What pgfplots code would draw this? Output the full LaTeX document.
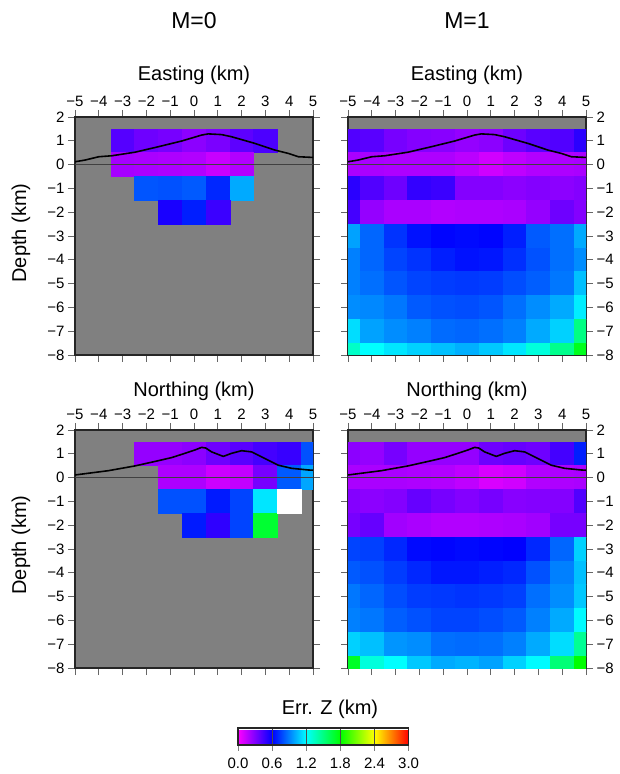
\documentclass[border=0pt]{standalone}
\usepackage{pgfplots}
\pgfplotsset{compat=1.18}
\usepackage{pgfplotstable}
\usepackage{fontspec}
\setmainfont{Liberation Sans}
\definecolor{bggray}{RGB}{128,128,128}
\pgfplotsset{colormap={gmt}{rgb255=(255,0,255) rgb255=(0,0,255) rgb255=(0,255,255) rgb255=(0,255,0) rgb255=(255,255,0) rgb255=(255,0,0)}}

% M=0, Easting
\pgfplotstableread{
x y c
-3 1 0.40
-2 1 0.34
-1 1 0.32
0 1 0.27
1 1 0.31
2 1 0.38
3 1 0.42
-3 0 0.21
-2 0 0.20
-1 0 0.19
0 0 0.18
1 0 0.13
2 0 0.18
-2 -1 0.80
-1 -1 0.79
0 -1 0.81
1 -1 0.69
2 -1 1.00
-1 -2 0.54
0 -2 0.67
1 -2 0.46
}\tlcells

% M=0, Northing
\pgfplotstableread{
x y c
-2 1 0.25
-1 1 0.25
0 1 0.27
1 1 0.34
2 1 0.39
3 1 0.44
4 1 0.47
5 1 0.79
-1 0 0.19
0 0 0.19
1 0 0.12
2 0 0.14
3 0 0.32
4 0 0.81
5 0 0.99
-1 -1 0.79
0 -1 0.79
1 -1 0.66
2 -1 0.76
3 -1 1.14
0 -2 0.66
1 -2 0.49
2 -2 0.76
3 -2 1.68
}\blcells

% M=1, Easting
\pgfplotstableread{
x y c
-5 1 0.41
-4 1 0.39
-3 1 0.32
-2 1 0.29
-1 1 0.28
0 1 0.25
1 1 0.27
2 1 0.34
3 1 0.39
4 1 0.41
5 1 0.50
-5 0 0.20
-4 0 0.20
-3 0 0.19
-2 0 0.19
-1 0 0.19
0 0 0.16
1 0 0.11
2 0 0.15
3 0 0.18
4 0 0.19
5 0 0.20
-5 -1 0.50
-4 -1 0.41
-3 -1 0.34
-2 -1 0.48
-1 -1 0.46
0 -1 0.29
1 -1 0.29
2 -1 0.27
3 -1 0.29
4 -1 0.27
5 -1 0.29
-5 -2 0.44
-4 -2 0.25
-3 -2 0.20
-2 -2 0.20
-1 -2 0.18
0 -2 0.19
1 -2 0.19
2 -2 0.20
3 -2 0.25
4 -2 0.34
5 -2 0.29
-5 -3 0.98
-4 -3 0.84
-3 -3 0.72
-2 -3 0.64
-1 -3 0.61
0 -3 0.62
1 -3 0.61
2 -3 0.67
3 -3 0.81
4 -3 0.86
5 -3 1.00
-5 -4 0.90
-4 -4 0.84
-3 -4 0.76
-2 -4 0.72
-1 -4 0.67
0 -4 0.64
1 -4 0.65
2 -4 0.71
3 -4 0.79
4 -4 0.86
5 -4 0.93
-5 -5 0.90
-4 -5 0.86
-3 -5 0.80
-2 -5 0.76
-1 -5 0.74
0 -5 0.73
1 -5 0.74
2 -5 0.78
3 -5 0.82
4 -5 0.88
5 -5 1.05
-5 -6 0.93
-4 -6 0.92
-3 -6 0.88
-2 -6 0.81
-1 -6 0.79
0 -6 0.78
1 -6 0.80
2 -6 0.86
3 -6 0.93
4 -6 1.00
5 -6 1.16
-5 -7 1.12
-4 -7 0.98
-3 -7 0.93
-2 -7 0.90
-1 -7 0.85
0 -7 0.84
1 -7 0.86
2 -7 0.90
3 -7 1.00
4 -7 1.09
5 -7 1.49
-5 -8 1.33
-4 -8 1.20
-3 -8 1.14
-2 -8 1.09
-1 -8 1.05
0 -8 1.01
1 -8 1.07
2 -8 1.14
3 -8 1.28
4 -8 1.47
5 -8 1.73
}\trcells

% M=1, Northing
\pgfplotstableread{
x y c
-5 1 0.27
-4 1 0.25
-3 1 0.32
-2 1 0.25
-1 1 0.25
0 1 0.25
1 1 0.34
2 1 0.36
3 1 0.34
4 1 0.44
5 1 0.67
-5 0 0.20
-4 0 0.20
-3 0 0.20
-2 0 0.19
-1 0 0.18
0 0 0.15
1 0 0.09
2 0 0.11
3 0 0.18
4 0 0.19
5 0 0.20
-5 -1 0.29
-4 -1 0.27
-3 -1 0.29
-2 -1 0.36
-1 -1 0.32
0 -1 0.29
1 -1 0.32
2 -1 0.28
3 -1 0.29
4 -1 0.29
5 -1 0.41
-5 -2 0.32
-4 -2 0.36
-3 -2 0.22
-2 -2 0.20
-1 -2 0.18
0 -2 0.18
1 -2 0.19
2 -2 0.20
3 -2 0.22
4 -2 0.32
5 -2 0.32
-5 -3 0.76
-4 -3 0.75
-3 -3 0.69
-2 -3 0.62
-1 -3 0.61
0 -3 0.62
1 -3 0.61
2 -3 0.60
3 -3 0.69
4 -3 0.84
5 -3 1.09
-5 -4 0.81
-4 -4 0.79
-3 -4 0.74
-2 -4 0.69
-1 -4 0.65
0 -4 0.65
1 -4 0.67
2 -4 0.69
3 -4 0.79
4 -4 0.90
5 -4 1.05
-5 -5 0.88
-4 -5 0.84
-3 -5 0.78
-2 -5 0.74
-1 -5 0.73
0 -5 0.72
1 -5 0.73
2 -5 0.75
3 -5 0.86
4 -5 0.93
5 -5 1.07
-5 -6 0.90
-4 -6 0.88
-3 -6 0.82
-2 -6 0.79
-1 -6 0.76
0 -6 0.76
1 -6 0.78
2 -6 0.81
3 -6 0.90
4 -6 1.00
5 -6 1.19
-5 -7 1.09
-4 -7 1.05
-3 -7 0.95
-2 -7 0.93
-1 -7 0.86
0 -7 0.85
1 -7 0.86
2 -7 0.90
3 -7 1.00
4 -7 1.12
5 -7 1.45
-5 -8 1.71
-4 -8 1.28
-3 -8 1.20
-2 -8 1.07
-1 -8 1.00
0 -8 1.02
1 -8 0.98
2 -8 1.09
3 -8 1.19
4 -8 1.52
5 -8 1.80
}\brcells

% topography profiles
\pgfplotstableread{
x y
-5.00 0.12
-4.58 0.19
-4.00 0.33
-3.46 0.37
-2.48 0.52
-1.50 0.75
-0.52 0.99
0.32 1.24
0.60 1.29
1.16 1.26
1.58 1.17
2.56 0.89
3.40 0.61
3.96 0.47
4.38 0.33
4.80 0.31
5.00 0.30
}\topoE

\pgfplotstableread{
x y
-5.00 0.11
-3.60 0.29
-2.48 0.49
-1.50 0.71
-0.94 0.84
-0.38 1.02
0.04 1.16
0.32 1.27
0.50 1.24
0.74 1.08
1.23 0.89
1.58 1.02
2.00 1.13
2.42 1.08
2.98 0.80
3.54 0.52
4.10 0.39
4.80 0.32
5.00 0.31
}\topoN

\pgfplotsset{
  panel/.style={
    scale only axis, width=238pt, height=238pt,
    xmin=-5, xmax=5, ymin=-8, ymax=2,
    axis background/.style={fill=bggray},
    xtick={-5,-4,...,5},
    xticklabels={−5,−4,−3,−2,−1,0,1,2,3,4,5},
    ytick={-8,-7,...,2},
    yticklabels={−8,−7,−6,−5,−4,−3,−2,−1,0,1,2},
    xticklabel pos=upper,
    tick align=outside,
    major tick length=7pt,
    tick style={line width=0.7pt, black!60},
    axis line style={line width=1.6pt, black!85},
    ticklabel style={font=\fontsize{15}{15}\selectfont},
    colormap name=gmt, point meta min=0, point meta max=3,
    clip marker paths=true,
  },
  cellplot/.style={scatter, only marks, mark=square*, mark size=11.9pt,
    line width=0.4pt, point meta=\thisrow{c},
    scatter/use mapped color={draw=mapped color, fill=mapped color}},
  zeroln/.style={black!75, line width=0.5pt, point meta=none},
  topoln/.style={black, line width=1.6pt, line join=round, point meta=none},
}

\begin{document}
\begin{tikzpicture}
\useasboundingbox (0,0) rectangle (619pt,774pt);

% Top-left: M=0, Easting
\begin{axis}[panel, at={(75pt,419pt)}, anchor=south west, yticklabel pos=left]
\addplot[cellplot] table[x=x, y=y] {\tlcells};
\addplot[zeroln] coordinates {(-5,0) (5,0)};
\addplot[topoln] table[x=x, y=y] {\topoE};
\end{axis}

% Top-right: M=1, Easting
\begin{axis}[panel, at={(348pt,419pt)}, anchor=south west, yticklabel pos=right]
\addplot[cellplot] table[x=x, y=y] {\trcells};
\addplot[zeroln] coordinates {(-5,0) (5,0)};
\addplot[topoln] table[x=x, y=y] {\topoE};
\end{axis}

% Bottom-left: M=0, Northing
\begin{axis}[panel, at={(75pt,106pt)}, anchor=south west, yticklabel pos=left]
\addplot[cellplot] table[x=x, y=y] {\blcells};
\addplot[only marks, point meta=none, mark=square*, mark size=11.9pt, mark options={fill=white, draw=white, line width=0.4pt}] coordinates {(4,-1)};
\addplot[zeroln] coordinates {(-5,0) (5,0)};
\addplot[topoln] table[x=x, y=y] {\topoN};
\end{axis}

% Bottom-right: M=1, Northing
\begin{axis}[panel, at={(348pt,106pt)}, anchor=south west, yticklabel pos=right]
\addplot[cellplot] table[x=x, y=y] {\brcells};
\addplot[zeroln] coordinates {(-5,0) (5,0)};
\addplot[topoln] table[x=x, y=y] {\topoN};
\end{axis}

% Colour bar
\begin{axis}[at={(238pt,37.7pt)}, anchor=south west, scale only axis,
  width=170.6pt, height=16.6pt, xmin=0, xmax=3, ymin=0, ymax=1, hide axis,
  colormap name=gmt, point meta min=0, point meta max=3,
  colorbar horizontal,
  colorbar style={at={(parent axis.south west)}, anchor=south west,
    scale only axis, width=170.6pt, height=16.6pt,
    font=\fontsize{15}{15}\selectfont,
    xtick={0,0.6,1.2,1.8,2.4,3}, xticklabels={0.0,0.6,1.2,1.8,2.4,3.0},
    xtick pos=left, xticklabel pos=lower,
    tick align=outside, major tick length=6pt,
    tick style={line width=0.7pt, black!50},
    xmajorgrids, grid style={black!70, line width=0.6pt}, axis on top,
    axis line style={line width=1.6pt, black!85},
    xticklabel shift=4pt,
    tick label style={font=\fontsize{15}{15}\selectfont},
    xticklabel style={font=\fontsize{15}{15}\selectfont}}]
\end{axis}

% Texts
\node[font=\fontsize{23}{23}\selectfont, anchor=base] at (194pt,745pt) {M=0};
\node[font=\fontsize{23}{23}\selectfont, anchor=base] at (467pt,745pt) {M=1};
\node[font=\fontsize{20}{20}\selectfont, anchor=base] at (194pt,693pt) {Easting (km)};
\node[font=\fontsize{20}{20}\selectfont, anchor=base] at (467pt,693pt) {Easting (km)};
\node[font=\fontsize{20}{20}\selectfont, anchor=base] at (194pt,377.3pt) {Northing (km)};
\node[font=\fontsize{20}{20}\selectfont, anchor=base] at (467pt,377.3pt) {Northing (km)};
\node[font=\fontsize{20}{20}\selectfont, rotate=90] at (21pt,541pt) {Depth (km)};
\node[font=\fontsize{20}{20}\selectfont, rotate=90] at (21pt,229pt) {Depth (km)};
\node[font=\fontsize{20}{20}\selectfont, anchor=base] at (330pt,59pt) {Err. Z (km)};
\end{tikzpicture}
\end{document}
